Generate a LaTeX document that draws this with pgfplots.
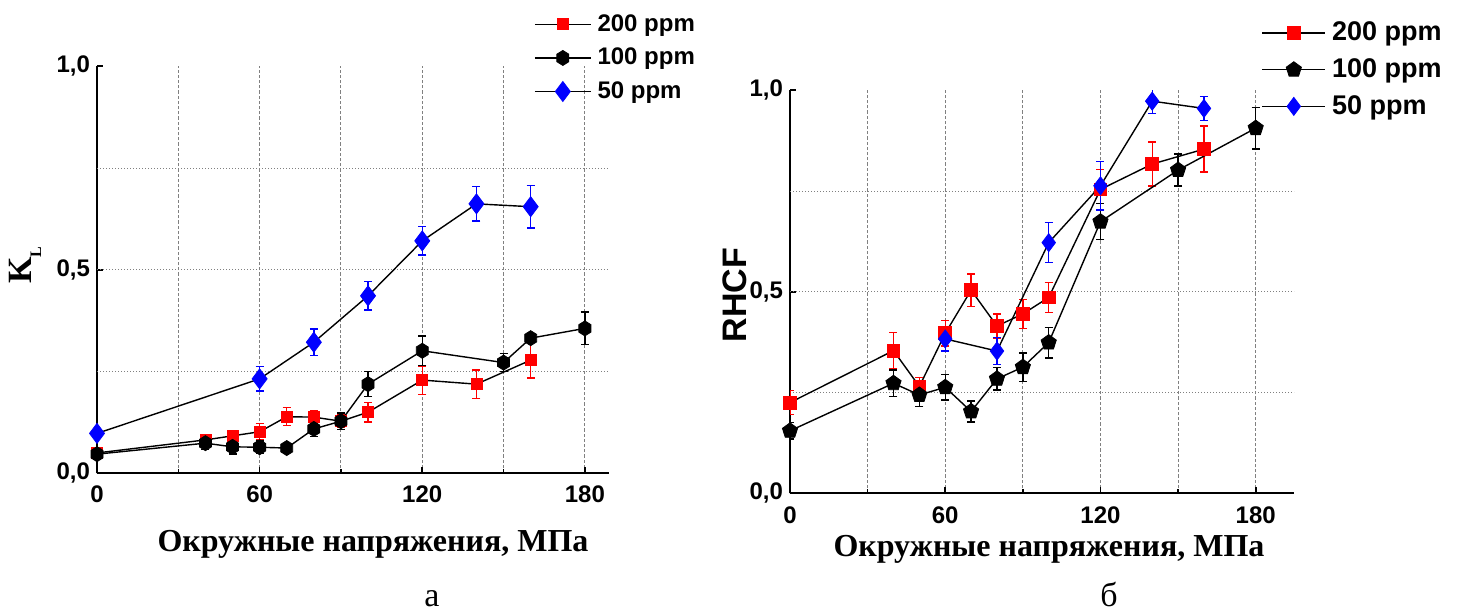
\documentclass[border=0pt]{standalone}
\usepackage{fontspec}
\setmainfont{Liberation Serif}
\newfontfamily\arial{Liberation Sans}
\usepackage{pgfplots}
\pgfplotsset{compat=1.18}
\usetikzlibrary{plotmarks}

\pgfdeclareplotmark{hexagon*}{%
  \pgfpathmoveto{\pgfqpoint{0pt}{\pgfplotmarksize}}%
  \pgfpathlineto{\pgfqpoint{0.8\pgfplotmarksize}{0.5\pgfplotmarksize}}%
  \pgfpathlineto{\pgfqpoint{0.8\pgfplotmarksize}{-0.5\pgfplotmarksize}}%
  \pgfpathlineto{\pgfqpoint{0pt}{-\pgfplotmarksize}}%
  \pgfpathlineto{\pgfqpoint{-0.8\pgfplotmarksize}{-0.5\pgfplotmarksize}}%
  \pgfpathlineto{\pgfqpoint{-0.8\pgfplotmarksize}{0.5\pgfplotmarksize}}%
  \pgfpathclose
  \pgfusepathqfillstroke}

\definecolor{myred}{RGB}{255,0,0}
\definecolor{myblue}{RGB}{0,0,255}

\pgfplotstableread{
x y e
0 0.050 0.010
40 0.082 0.010
50 0.092 0.010
60 0.102 0.020
70 0.139 0.022
80 0.138 0.015
90 0.128 0.015
100 0.150 0.024
120 0.229 0.035
140 0.219 0.035
160 0.278 0.044
}\LtwoH
\pgfplotstableread{
x y e
0 0.047 0.010
40 0.074 0.015
50 0.065 0.018
60 0.064 0.015
70 0.062 0.010
80 0.109 0.018
90 0.128 0.020
100 0.219 0.031
120 0.301 0.036
150 0.272 0.022
160 0.332 0.010
180 0.356 0.040
}\LoneH
\pgfplotstableread{
x y e
0 0.098 0.010
60 0.232 0.030
80 0.322 0.033
100 0.436 0.035
120 0.571 0.035
140 0.662 0.042
160 0.655 0.052
}\Lfifty
\pgfplotstableread{
x y e
0 0.225 0.030
40 0.354 0.045
50 0.265 0.022
60 0.397 0.032
70 0.504 0.040
80 0.415 0.030
90 0.445 0.036
100 0.486 0.037
120 0.754 0.050
140 0.817 0.055
160 0.854 0.057
}\RtwoH
\pgfplotstableread{
x y e
0 0.155 0.020
40 0.273 0.033
50 0.244 0.029
60 0.263 0.032
70 0.203 0.026
80 0.284 0.028
90 0.313 0.035
100 0.374 0.038
120 0.674 0.045
150 0.802 0.040
180 0.906 0.052
}\RoneH
\pgfplotstableread{
x y e
60 0.383 0.030
80 0.353 0.033
100 0.622 0.050
120 0.763 0.060
140 0.973 0.030
160 0.955 0.030
}\Rfifty

\pgfplotsset{
  panel/.style={
    scale only axis,
    axis lines*=left,
    axis line style={line width=0.8pt},
    xmin=0, ymin=0, ymax=1,
    xtick={0,60,120,180},
    minor xtick={30,90,150},
    xmajorgrids, xminorgrids,
    ytick={0,0.5,1},
    extra y ticks={0.25,0.5,0.75},
    extra y tick labels={},
    extra y tick style={grid=major, major grid style={gray, line width=0.5pt, dash pattern=on 0.6pt off 0.9pt}, major tick length=0pt},
    major grid style={gray, line width=0.5pt, dash pattern=on 1.6pt off 1pt},
    minor grid style={gray, line width=0.5pt, dash pattern=on 1.6pt off 1pt},
    tick align=inside,
    major tick length=3pt,
    minor tick length=2pt,
    tick style={black, line width=0.8pt},
    /pgf/number format/assume math mode=true,
    ticklabel style={font=\arial\bfseries\fontsize{12}{14}\selectfont},
    y tick label style={/pgf/number format/.cd, fixed, fixed zerofill, precision=1, use comma},
    legend cell align=left,
    legend image code/.code={\draw[mark repeat=2,mark phase=2,##1] plot coordinates {(0pt,0pt) (14pt,0pt) (28pt,0pt)};},
  },
  ser/.style 2 args={black, line width=0.7pt, mark=#1,
    mark options={fill=#2, draw=#2, line width=0.4pt, solid},
    error bars/.cd, y dir=both, y explicit,
    error bar style={#2, line width=0.7pt},
    error mark=-,
    error mark options={#2, rotate=90, mark size=2pt, line width=0.7pt}},
}

\begin{document}
\begin{tikzpicture}
\path[use as bounding box] (0,0) rectangle (732pt,306.5pt);

% ---- left panel ----
\begin{axis}[panel,
  at={(48.5pt,69.85pt)}, anchor=south west,
  width=256pt, height=203.5pt, xmax=188.9,
  x tick label style={yshift=-2.5pt},
  legend style={draw=none, fill=none, at={(rel axis cs:0.853,1.138)}, anchor=north west,
    inner sep=0pt, row sep=2.9pt, font=\arial\bfseries\fontsize{12}{14}\selectfont,
    /tikz/every odd column/.append style={column sep=1pt}},
]
\addplot[mark size=2.75pt, ser={square*}{myred}] table[x=x, y=y, y error=e] {\LtwoH};
\addlegendentry{200 ppm}
\addplot[mark size=3.75pt, ser={hexagon*}{black}] table[x=x, y=y, y error=e] {\LoneH};
\addlegendentry{100 ppm}
\addplot[mark size=5pt, ser={diamond*}{myblue}] table[x=x, y=y, y error=e] {\Lfifty};
\addlegendentry{50 ppm}
\end{axis}

% ---- right panel ----
\begin{axis}[panel,
  at={(395pt,59.85pt)}, anchor=south west,
  width=252pt, height=201.5pt, xmax=194.8,
  x tick label style={yshift=-3pt},
  legend style={draw=none, fill=none, at={(rel axis cs:0.935,1.180)}, anchor=north west,
    inner sep=0pt, row sep=3.4pt, font=\arial\bfseries\fontsize{13.5}{16}\selectfont,
    /tikz/every odd column/.append style={column sep=1pt}},
  legend image code/.code={\draw[mark repeat=2,mark phase=2,#1] plot coordinates {(0pt,0pt) (15.75pt,0pt) (31.5pt,0pt)};},
]
\addplot[mark size=3.2pt, ser={square*}{myred}] table[x=x, y=y, y error=e] {\RtwoH};
\addlegendentry{200 ppm}
\addplot[mark size=4pt, ser={pentagon*}{black}] table[x=x, y=y, y error=e] {\RoneH};
\addlegendentry{100 ppm}
\addplot[mark size=4.5pt, ser={diamond*}{myblue}] table[x=x, y=y, y error=e] {\Rfifty};
\addlegendentry{50 ppm}
\end{axis}

% ---- labels ----
\node[anchor=base, font=\bfseries\fontsize{16}{16}\selectfont] at (186.5pt,30.5pt) {Окружные напряжения, МПа};
\node[anchor=base, font=\bfseries\fontsize{16}{16}\selectfont] at (524.5pt,28pt) {Окружные напряжения, МПа};
\node[anchor=base, font=\fontsize{17}{17}\selectfont] at (216pt,3pt) {а};
\node[anchor=base, font=\fontsize{17}{17}\selectfont] at (554.5pt,3pt) {б};
\node[rotate=90, font=\bfseries\fontsize{17}{17}\selectfont] at (12.5pt,174pt) {K\raisebox{-5pt}{\fontsize{8}{8}\selectfont L}};
\node[rotate=90, font=\arial\bfseries\fontsize{17}{17}\selectfont] at (367.5pt,159pt) {RHCF};
\end{tikzpicture}
\end{document}
